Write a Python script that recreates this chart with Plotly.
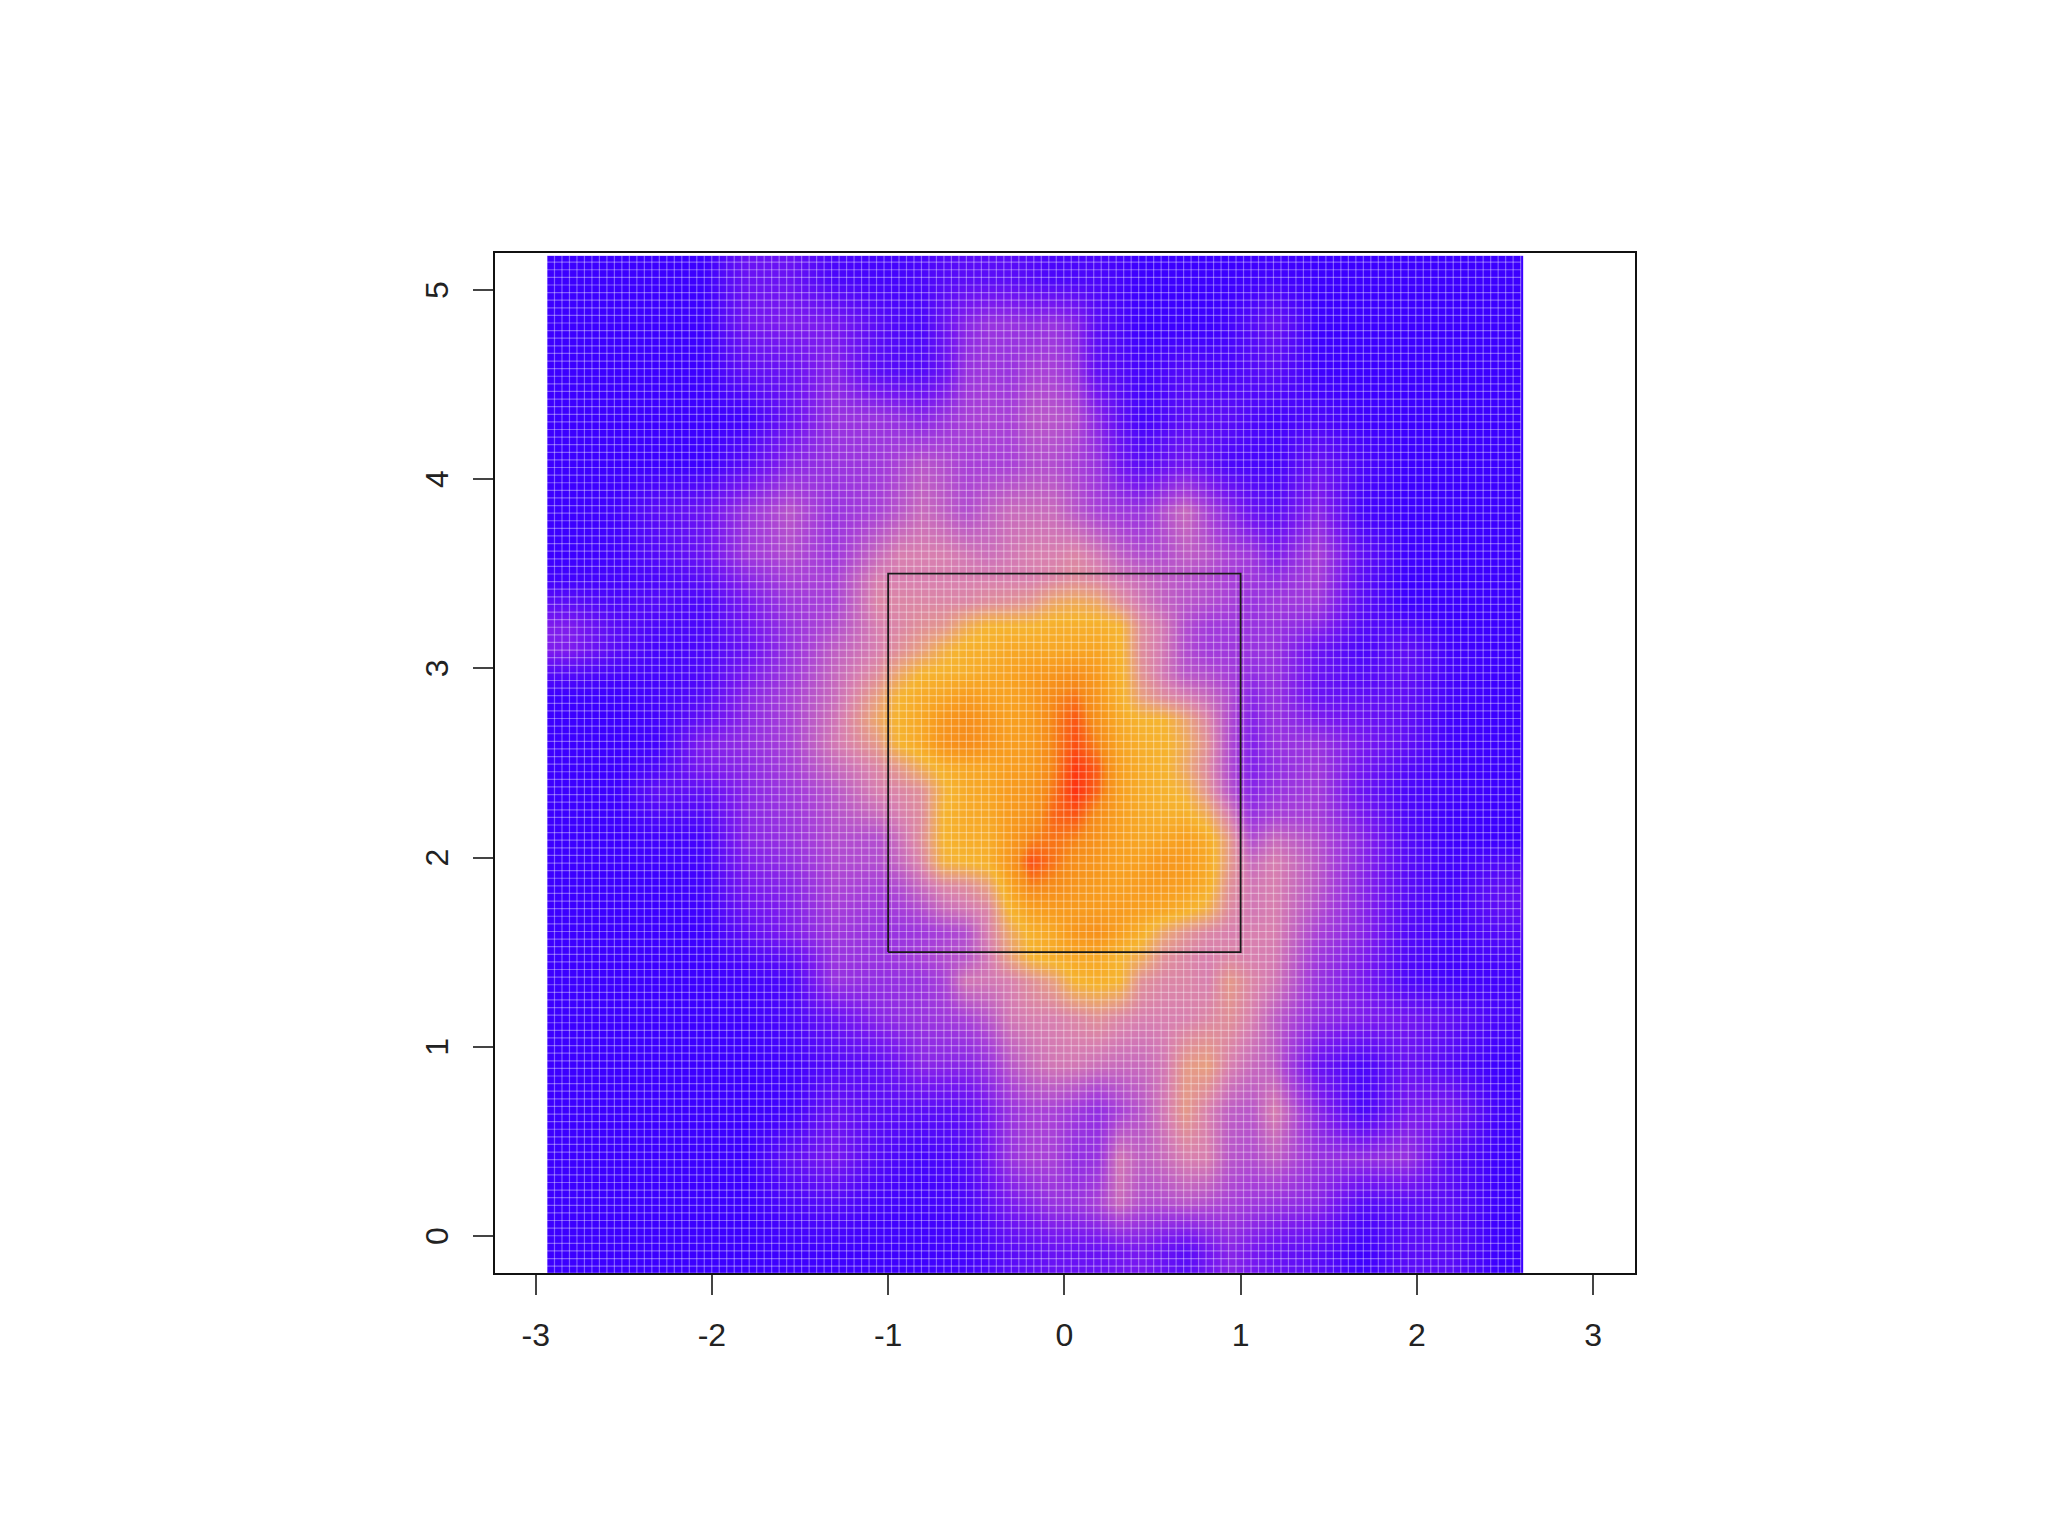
"""
Densite de lancers dans la zone de strike, reproduite avec une heatmap Plotly.
"""
import numpy as np
import plotly.graph_objects as go

# centres des cellules (plus serres autour de la zone)
x_centres = [-2.81, -2.56, -2.31, -2.06, -1.81, -1.56, -1.31,
             -1.0625, -0.9375, -0.8125, -0.6875, -0.5625, -0.4375, -0.3125, -0.1875, -0.0625,
             0.0625, 0.1875, 0.3125, 0.4375, 0.5625, 0.6875, 0.8125, 0.9375, 1.0625,
             1.19, 1.44, 1.69, 1.94, 2.19, 2.465]
y_centres = [5.06, 4.82, 4.57, 4.33, 4.08, 3.84,
             3.60, 3.475, 3.35, 3.225, 3.10, 2.975, 2.85, 2.725, 2.6, 2.475, 2.35, 2.225,
             2.1, 1.975, 1.85, 1.725, 1.6, 1.475,
             1.35, 1.15, 0.90, 0.66, 0.41, 0.17, -0.08]

# valeurs, de haut en bas
density = [
    [0, 0, 0, 0, 1.5, 1.5, 0.5, 0.3, 0.3, 0.5, 0.8, 1, 1, 1, 0.8, 0.5, 0.5, 0.5, 0.3, 0, 0, 0, 0, 0, 0.1, 0.2, 0, 0, 0, 0, 0],
    [0, 0, 0, 0, 1.8, 2.2, 2, 1, 0.6, 0.5, 1.5, 2.5, 3, 3, 2.8, 3, 2.5, 1, 0.5, 0, 0, 0, 0, 0.3, 0.8, 1.5, 0, 0, 0, 0, 0],
    [0, 0, 0, 0, 1.2, 1.5, 2.5, 1, 0.8, 0.8, 1.5, 3, 3.2, 3, 3.5, 3.5, 3, 1.2, 0.8, 0.3, 0.5, 0.8, 0.6, 0.5, 0.8, 1, 0.1, 0, 0, 0, 0],
    [0, 0, 0, 0, 0.2, 1.5, 3, 3, 2.8, 2.5, 3, 3.5, 3.6, 3.5, 4, 4, 3.8, 2.5, 1.2, 0.3, 0.6, 1, 1, 1, 0.6, 0.3, 0.5, 0.1, 0, 0, 0],
    [0, 0, 0, 0, 1, 2.5, 3, 3.2, 3.6, 4, 3.8, 3.5, 3.5, 3.5, 3.8, 3.8, 3.5, 3, 1.8, 1, 1.4, 1.8, 1.2, 0.5, 0.4, 0.3, 1.5, 0.5, 0, 0, 0],
    [0, 0.2, 1, 1.5, 3, 4, 3, 3.5, 4, 4.5, 4.2, 3.8, 4.2, 4.5, 4.5, 4.5, 4, 3.5, 3.2, 3, 3.8, 4.5, 3.5, 2.5, 1.5, 1, 2.5, 0.3, 0, 0, 0],
    [0, 0.2, 0.8, 1.5, 3.2, 3.8, 3.2, 4.5, 5, 5, 5, 4.8, 4.6, 4.8, 5, 5, 5.2, 4.8, 4.2, 3.8, 3.8, 4.2, 4, 3.5, 3.2, 2.2, 3.5, 1.2, 0.1, 0, 0],
    [0.2, 0.3, 0.5, 1, 2.5, 3.5, 3.5, 5, 5, 5, 5, 5, 5, 5, 5, 5.2, 5.4, 5.2, 4.8, 4.5, 4.2, 4, 3.8, 3.5, 3.2, 2.8, 3.4, 1, 0, 0, 0],
    [1, 0.5, 0.8, 0.5, 2, 3.2, 3.5, 5.2, 5.2, 5.2, 5.2, 5.2, 5.4, 5.5, 5.7, 6.3, 6.5, 6.3, 5.5, 4.8, 4.3, 4, 3.8, 3.5, 3, 3.2, 3.2, 1, 0, 0, 0],
    [2.2, 1, 0.5, 0.5, 1.8, 3, 3.8, 5, 5.2, 5.5, 5.7, 6.5, 7, 7, 7, 7.2, 7.2, 7.2, 7, 5.4, 4.8, 3.8, 3.3, 3.2, 3, 3, 2.5, 0.8, 0.6, 0, 0],
    [2.2, 1, 0.3, 0.5, 1.5, 3, 4.2, 5, 5.5, 6, 6.7, 7.2, 7.2, 7.5, 7.5, 7.5, 7.6, 7.6, 7.1, 5.4, 4.8, 3.8, 3.3, 3.2, 3, 3, 1.5, 0.5, 1.2, 0.2, 0],
    [0.8, 0.4, 0.3, 0.6, 2, 3.2, 4.4, 5.4, 6.3, 7, 7.1, 7.2, 7.5, 7.7, 8, 8.2, 8.5, 8, 7.2, 5.6, 4.8, 4, 3.8, 3.4, 2.8, 3, 1.5, 0.8, 1.2, 0.3, 0],
    [0, 0, 0.3, 0.8, 2.5, 3.5, 4.5, 6, 7, 7.4, 7.6, 8, 7.8, 7.7, 8, 8.7, 9, 8.2, 7.2, 6, 5.4, 5, 4.5, 3.8, 2.5, 3, 1.5, 1.2, 1.2, 0.3, 0],
    [0, 0, 0.3, 1.3, 2.6, 3.5, 4.7, 6.3, 7.1, 7.5, 8.2, 8.5, 8.2, 7.8, 8, 8.8, 9.4, 8.4, 7.4, 7, 7, 6.2, 5.2, 3.8, 2.4, 3, 2.2, 1.6, 1.2, 0.2, 0],
    [0, 0, 0.2, 2.2, 2.8, 3.5, 4.8, 5.8, 7, 7.5, 8.3, 8.6, 8.3, 7.9, 8, 8.8, 9.5, 8.8, 7.6, 7.2, 7.1, 6.5, 5.5, 3.8, 2.3, 3, 3, 2, 1.2, 0.2, 0],
    [0, 0, 0.6, 2, 2.6, 3.4, 4.4, 5.2, 5.8, 6.5, 7.2, 7.5, 7.6, 7.9, 8, 8.8, 9.8, 9.3, 7.8, 7.3, 7.1, 6.3, 5.3, 3.8, 2.3, 2.8, 3.2, 1.8, 0.8, 0.2, 0],
    [0, 0, 1.2, 1.2, 2.5, 3.2, 4, 5, 5.2, 5.5, 6.8, 7.4, 7.6, 8, 8.2, 9, 9.9, 9.2, 7.8, 7.3, 7.1, 6.8, 5.6, 4, 2.5, 3, 3.3, 1.5, 0.5, 0.2, 0],
    [0, 0, 0.6, 0.7, 2.5, 3.1, 3.9, 4.5, 5, 5.4, 7, 7.4, 7.5, 8, 8.3, 9.2, 9.4, 8.5, 7.8, 7.4, 7.2, 7.2, 6.5, 5, 3, 3.5, 3.4, 2, 0.6, 0.1, 0],
    [0, 0, 0.2, 0.3, 2.5, 3, 3.8, 3.8, 4.6, 5.5, 7, 7.3, 7.3, 8, 8.8, 9, 8.8, 8.3, 7.8, 7.5, 7.6, 7.8, 7.4, 5.8, 3.8, 4.5, 3.8, 2.5, 0.8, 0.1, 0],
    [0, 0, 0.1, 0.2, 2.2, 2.8, 3.7, 3.8, 4.4, 5.2, 6.8, 7, 7.2, 8.2, 9.5, 9, 8.5, 8.2, 7.8, 7.8, 8.2, 8, 7.5, 5.8, 4.5, 5, 4, 2.5, 0.9, 0.2, 0.6],
    [0, 0, 0, 0.2, 2, 2.5, 3.6, 3.5, 3.8, 4.5, 5.2, 5.4, 6, 7.6, 8.8, 8.6, 8.2, 8, 7.8, 8, 8, 7.8, 7.3, 5.5, 4.8, 5, 4, 2.5, 1, 0.3, 1.2],
    [0, 0, 0, 0.1, 1.6, 2.3, 3.4, 3.2, 3.4, 3.8, 4.5, 4.8, 5.2, 7, 7.8, 8, 8, 8, 8, 7.8, 7.6, 7.2, 6.6, 5.3, 4.8, 5, 3.8, 2.5, 0.9, 0.3, 1.2],
    [0, 0, 0, 0, 1.2, 2.2, 3.2, 3, 3, 3.2, 3.5, 3.8, 5, 6.3, 7.2, 7.5, 8.2, 8.4, 7.8, 7.2, 6.2, 5.6, 5.2, 5, 5, 5, 3.5, 2.5, 0.8, 0.3, 0.8],
    [0, 0, 0, 0, 0.6, 1.2, 3, 3, 3.2, 3.5, 3.8, 4, 4.8, 6, 7, 7.3, 7.5, 7.5, 7, 6.5, 5.5, 5.2, 5, 5.2, 5, 4.9, 3.2, 2.2, 0.7, 0.2, 0.4],
    [0, 0, 0, 0, 0.2, 0.5, 3, 2.8, 2.9, 3, 3.5, 4.8, 4.8, 5, 5.5, 6, 7, 7.2, 7, 5.5, 5.2, 5.2, 5, 5.8, 5.2, 4.8, 3, 2, 0.6, 0.2, 0.2],
    [0, 0, 0, 0, 0.1, 0.5, 1.5, 2.5, 2.8, 3, 3.2, 3.5, 4, 4.8, 5, 5, 5.2, 5.5, 5.2, 5, 5, 5, 5.2, 5.5, 5, 4.2, 2.8, 2.2, 1.8, 1.2, 0.4],
    [0, 0, 0, 0, 0, 0.2, 0.8, 1.2, 1.8, 2.5, 2.5, 2.5, 3, 4, 4.5, 4.8, 4.8, 4.6, 4.5, 4.5, 4.8, 5.8, 6, 5, 4.5, 4.2, 1.5, 0.5, 1.5, 0.8, 0],
    [0, 0, 0, 0, 0, 0.2, 1.5, 1, 1, 1, 1, 1.2, 2, 3, 3.5, 3.5, 3.2, 2.8, 3.5, 4, 4.8, 5.8, 5, 4.2, 4, 5, 2.5, 0.5, 2, 2, 0.2],
    [0, 0, 0, 0, 0, 1.2, 2, 0.8, 0.5, 0.3, 0.5, 0.8, 1.8, 3, 3.5, 3.5, 2.8, 3, 4.8, 4.2, 4.5, 5, 5, 4, 3.8, 4.2, 3, 2.8, 3, 1, 0],
    [0, 0, 0, 0, 0, 0.5, 0.8, 0.3, 0.2, 0.2, 0.3, 0.5, 1.2, 2, 2.5, 3, 3, 3.5, 4.5, 3.8, 3.8, 4, 3.8, 3.5, 3.2, 3, 2.5, 0.8, 1, 1, 0],
    [0, 0, 0, 0, 0, 0.1, 0.1, 0.1, 0.1, 0.1, 0.2, 0.3, 0.6, 1, 1.2, 1.5, 1.5, 1.5, 1.8, 2, 1.5, 1, 1.8, 2.5, 2, 1.5, 1, 0.1, 1, 1, 0],
]

x_ticks = [-3, -2, -1, 0, 1, 2, 3]
x_labels = ["-3", "-2", "-1", "0", "1", "2", "3"]
y_ticks = [0, 1, 2, 3, 4, 5]

# zone de strike
zone_x = [-1, 1, 1, -1, -1]
zone_y = [1.5, 1.5, 3.5, 3.5, 1.5]

palette = [
    [0.0, "#3c00ff"],
    [0.2, "#7818f0"],
    [0.35, "#a840d8"],
    [0.5, "#d880b0"],
    [0.6, "#e8a080"],
    [0.7, "#f6b430"],
    [0.78, "#f8a020"],
    [0.87, "#f68a18"],
    [1.0, "#ff2a10"],
]

fig = go.Figure()
fig.add_trace(go.Heatmap(x=x_centres, y=y_centres[::-1], z=density[::-1], zmin=0, zmax=10,
                         colorscale=palette, zsmooth="best", showscale=False, hoverinfo="skip"))

# fines lignes claires de la grille de l'image d'origine
grid_x = np.arange(-2.936, 2.59, 0.0425)
grid_y = np.arange(-0.2, 5.18, 0.0402)
line_x, line_y = [], []
for gx in grid_x:
    line_x += [gx, gx, None]
    line_y += [-0.2, 5.18, None]
for gy in grid_y:
    line_x += [-2.936, 2.59, None]
    line_y += [gy, gy, None]
fig.add_trace(go.Scatter(x=line_x, y=line_y, mode="lines", hoverinfo="skip", showlegend=False,
                         line={"color": "rgba(255,255,255,0.36)", "width": 1.2}))

fig.add_trace(go.Scatter(x=zone_x, y=zone_y, mode="lines", hoverinfo="skip", showlegend=False,
                         line={"color": "#1a1a1a", "width": 1.8}))

label_font = {"family": "Liberation Sans", "size": 32, "color": "#222222"}
axis_style = {
    "showgrid": False,
    "zeroline": False,
    "showline": True,
    "mirror": True,
    "linecolor": "#111111",
    "linewidth": 2,
    "ticks": "outside",
    "ticklen": 20,
    "tickwidth": 1.5,
    "tickcolor": "#444444",
    "tickfont": label_font,
}

# etiquettes de l'axe y tournees, centrees sur leur graduation
y_annotations = [
    {"x": 0, "xref": "paper", "y": tick, "yref": "y", "text": str(tick), "textangle": -90,
     "xshift": -78, "showarrow": False, "font": label_font}
    for tick in y_ticks
]

fig.update_layout(
    width=2032, height=1519, autosize=False,
    paper_bgcolor="white", plot_bgcolor="white", showlegend=False,
    margin={"l": 487, "r": 405, "t": 245, "b": 254},
    xaxis={**axis_style, "range": [-3.231, 3.238], "tickvals": x_ticks, "ticktext": x_labels,
           "ticklabelstandoff": 13},
    yaxis={**axis_style, "range": [-0.196, 5.195], "tickvals": y_ticks, "showticklabels": False},
    annotations=y_annotations,
)

fig.write_html("out.html")
